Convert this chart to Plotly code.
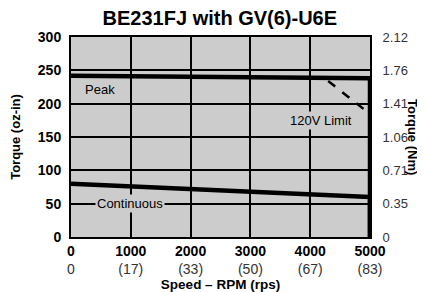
import plotly.graph_objects as go

speed_ticks = [0, 1000, 2000, 3000, 4000, 5000]
rps_labels = ["0", "(17)", "(33)", "(50)", "(67)", "(83)"]
torque_ticks = [0, 50, 100, 150, 200, 250, 300]
nm_labels = ["0", "0.35", "0.71", "1.06", "1.41", "1.76", "2.12"]

peak_speed = [0, 5000, 5000]
peak_torque = [242, 238, 0]
cont_speed = [0, 5000, 5000]
cont_torque = [80, 60, 0]
limit_speed = [4300, 4950]
limit_torque = [234, 188]

FONT = "Liberation Sans, Arial, sans-serif"
NOTICK = "rgba(0,0,0,0)"

fig = go.Figure()
fig.add_trace(go.Scatter(x=peak_speed, y=peak_torque, mode="lines",
                         line=dict(color="black", width=4.5), showlegend=False))
fig.add_trace(go.Scatter(x=cont_speed, y=cont_torque, mode="lines",
                         line=dict(color="black", width=4.5), showlegend=False))
fig.add_trace(go.Scatter(x=limit_speed, y=limit_torque, mode="lines",
                         line=dict(color="black", width=2.5, dash="dash"), showlegend=False))
fig.add_trace(go.Scatter(x=[0], y=[0], yaxis="y2", mode="markers",
                         marker=dict(opacity=0), showlegend=False, hoverinfo="skip"))

xtext = [f"<b>{a}</b><br><span style='color:#333'>{b}</span>" for a, b in zip(speed_ticks, rps_labels)]

fig.update_layout(
    width=417, height=284,
    margin=dict(l=63, r=55, t=29, b=55),
    paper_bgcolor="white", plot_bgcolor="#cccccc",
    font=dict(family=FONT, color="black", size=13),
    title=dict(text="<b>BE231FJ with GV(6)-U6E</b>", x=0.508, xanchor="center",
               yref="container", y=1, yanchor="top", pad=dict(t=3),
               font=dict(size=20)),
    xaxis=dict(range=[0, 5000], tickvals=speed_ticks, ticktext=xtext,
               showgrid=True, gridcolor="black", gridwidth=1.5,
               showline=True, linecolor="black", linewidth=2, mirror=True,
               zeroline=False, ticks="", tickfont=dict(size=14), automargin=False,
               title=dict(text="<b>Speed – RPM (rps)</b>", font=dict(size=13.5), standoff=0)),
    yaxis=dict(range=[0, 300], tickvals=torque_ticks,
               ticktext=[f"<b>{v}</b>" for v in torque_ticks],
               showgrid=True, gridcolor="black", gridwidth=1.5,
               showline=True, linecolor="black", linewidth=2, mirror=True,
               zeroline=False, ticks="outside", ticklen=5, tickcolor=NOTICK,
               tickfont=dict(size=14), automargin=False,
               title=dict(text="<b>Torque (oz-in)</b>", font=dict(size=13), standoff=20)),
    yaxis2=dict(range=[0, 300], tickvals=torque_ticks, ticktext=nm_labels,
                overlaying="y", side="right", showgrid=False, zeroline=False,
                ticks="outside", ticklen=9, tickcolor=NOTICK, automargin=False,
                tickfont=dict(size=13, color="#333")),
)

fig.add_annotation(xref="paper", yref="paper", x=1, y=0.5, xshift=43,
                   xanchor="center", yanchor="middle",
                   text="<b>Torque (Nm)</b>", textangle=90, showarrow=False,
                   font=dict(size=13))
fig.add_annotation(x=485, y=222, text="Peak", showarrow=False,
                   font=dict(size=13), bgcolor="#cccccc")
fig.add_annotation(x=4180, y=175, text="120V Limit", showarrow=False,
                   font=dict(size=13), bgcolor="#cccccc")
fig.add_annotation(x=990, y=50, text="Continuous", showarrow=False,
                   font=dict(size=13), bgcolor="#cccccc", borderpad=1)

fig.write_html("out.html")
